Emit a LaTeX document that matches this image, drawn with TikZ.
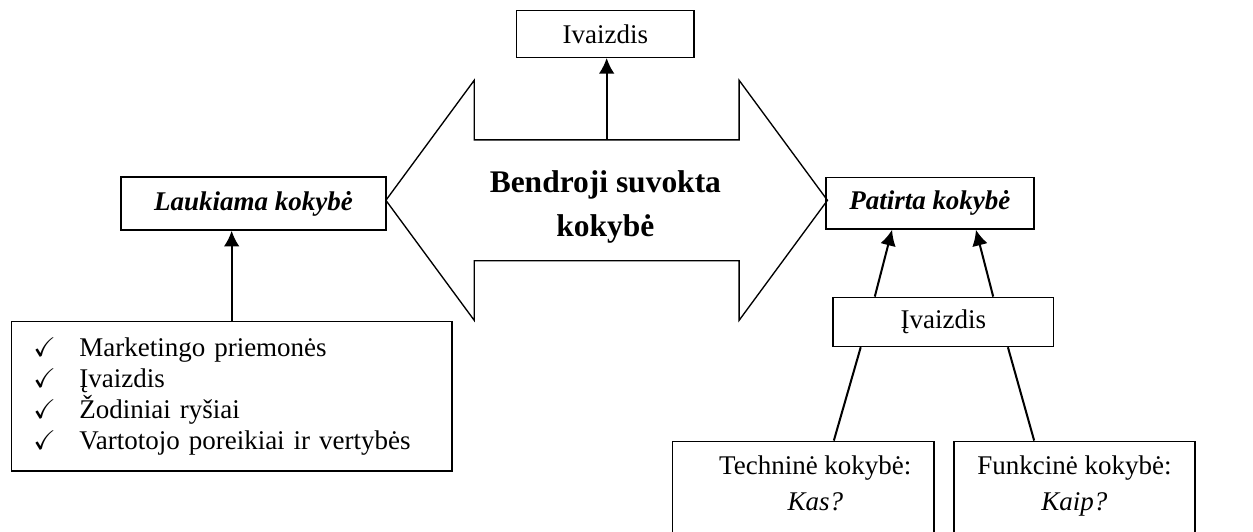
\documentclass[tikz,border=0pt]{standalone}
\usepackage{amssymb}
\usepackage{fontspec}
\setmainfont{Liberation Serif}
\usepackage{tikz}
\usetikzlibrary{arrows.meta,positioning,calc}
\newcommand{\chk}{\makebox[0.72cm][l]{$\checkmark$}}

\begin{document}
\begin{tikzpicture}[
		>={Latex[length=7pt,width=7pt]},
		box/.style={draw, line width=0.6pt, inner sep=2pt, font=\fontsize{12}{14}\selectfont},
		qual/.style={box, font=\fontsize{12}{14}\selectfont\bfseries\itshape},
		link/.style={line width=0.9pt}
		]
		
		\useasboundingbox (0,0) rectangle (19.58,8.30);
		\clip (0,0) rectangle (19.58,8.30);
		
		% --------------------------------------------------
		% Double arrow in the middle
		% --------------------------------------------------
		\coordinate (c) at (9.48,5.17);
		\draw[line width=0.6pt] ($(c)+(-3.45,0)$) -- ($(c)+(-2.07,1.875)$) -- ($(c)+(-2.07,0.945)$)
		-- ($(c)+(2.07,0.945)$) -- ($(c)+(2.07,1.875)$) -- ($(c)+(3.45,0)$)
		-- ($(c)+(2.07,-1.875)$) -- ($(c)+(2.07,-0.945)$) -- ($(c)+(-2.07,-0.945)$)
		-- ($(c)+(-2.07,-1.875)$) -- cycle;
		\coordinate (shaft) at ($(c)+(0,0.945)$);
		
		\node[align=center, font=\fontsize{14}{19.5}\selectfont\bfseries] (general) at (9.46,5.06) {Bendroji suvokta\\kokybė};
		
		% top image box
		\node[box, minimum width=2.77cm, minimum height=0.73cm] (ivtop) at (9.46,7.77) {Ivaizdis};
		\draw[link,->] (shaft) -- (shaft |- ivtop.south);
		
		% --------------------------------------------------
		% LEFT: expected quality
		% --------------------------------------------------
		\node[qual, minimum width=4.14cm, minimum height=0.83cm] (expect) at (3.96,5.12) {Laukiama kokybė};
		
		\node[box, minimum width=6.89cm, minimum height=2.34cm, text width=6.2cm, align=left,
		font=\fontsize{12}{13.8}\selectfont] (list) at (3.62,2.11) {%
			\chk Marketingo priemonės\\
			\chk Įvaizdis\\
			\chk Žodiniai ryšiai\\
			\chk Vartotojo poreikiai ir vertybės};
		\draw[link,->] (list.north) -- (list.north |- expect.south);
		
		% --------------------------------------------------
		% RIGHT: experienced quality
		% --------------------------------------------------
		\node[qual, minimum width=3.25cm, minimum height=0.81cm] (felt) at (14.53,5.125) {Patirta kokybė};
		
		\node[box, minimum width=3.45cm, minimum height=0.77cm] (img) at (14.74,3.27) {Įvaizdis};
		
		\draw[link,->] ($(img.north)+(-1.07,0)$) -- ($(felt.south)+(-0.59,0)$);
		\draw[link,->] ($(img.north)+(0.78,0)$) -- ($(felt.south)+(0.72,0)$);
		
		\node[box, minimum width=4.09cm, minimum height=1.47cm, align=center,
		font=\fontsize{12}{16}\selectfont] (tech) at (12.55,0.67) {\hspace*{0.38cm}Techninė kokybė:\\\hspace*{0.38cm}\textit{Kas?}\strut};
		\node[box, minimum width=3.77cm, minimum height=1.47cm, align=center,
		font=\fontsize{12}{16}\selectfont] (func) at (16.79,0.67) {Funkcinė kokybė:\\\textit{Kaip?}\strut};
		
		\draw[link] ($(img.south)+(-1.29,0)$) -- ($(tech.north)+(0.48,0)$);
		\draw[link] ($(img.south)+(1.01,0)$) -- ($(func.north)+(-0.63,0)$);
		
	\end{tikzpicture}
\end{document}
